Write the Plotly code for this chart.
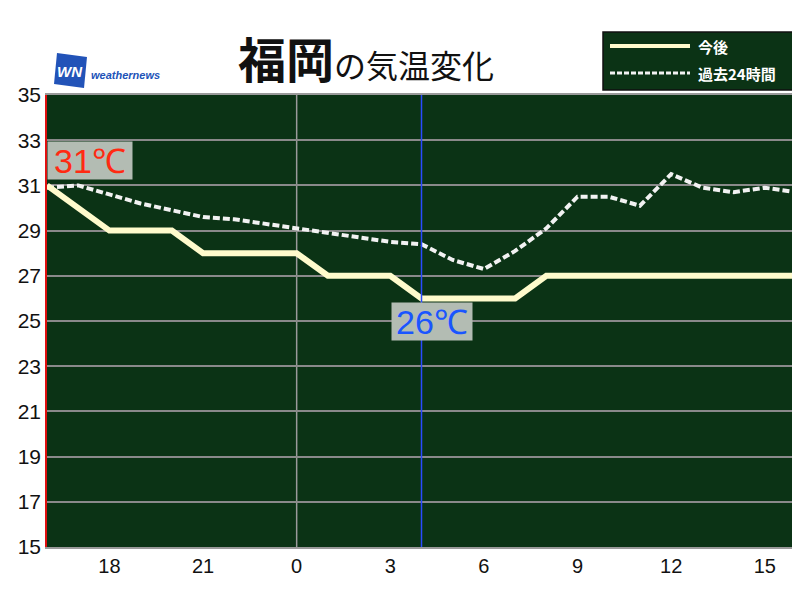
import plotly.graph_objects as go

# hours relative to midnight (-8 = 16:00 previous day ... 16 = 16:00)
hours = list(range(-8, 17))
forecast = [31, 30, 29, 29, 29, 28, 28, 28, 28, 27, 27, 27, 26, 26, 26, 26,
            27, 27, 27, 27, 27, 27, 27, 27, 27]
past24 = [30.9, 31.0, 30.6, 30.2, 29.9, 29.6, 29.5, 29.3, 29.1, 28.9, 28.7, 28.5,
          28.4, 27.7, 27.3, 28.1, 29.1, 30.5, 30.5, 30.1, 31.5, 30.9, 30.7, 30.9, 30.7]
tick_vals = [-6, -3, 0, 3, 6, 9, 12, 15]
tick_text = ["18", "21", "0", "3", "6", "9", "12", "15"]
y_ticks = list(range(15, 36, 2))
midnight = 0
now_hour = 4
max_label = "31℃"
min_label = "26℃"

BG = "#0b3315"
FONT = "Liberation Sans"
JP = "Noto Sans CJK JP"

fig = go.Figure()
fig.add_trace(go.Scatter(x=hours, y=past24, mode="lines", name="過去24時間",
                         line=dict(color="#f2f2f2", width=4, dash="7px,3px"),
                         showlegend=False))
fig.add_trace(go.Scatter(x=hours, y=forecast, mode="lines", name="今後",
                         line=dict(color="#fffbcc", width=6),
                         showlegend=False))

# reference lines
fig.add_shape(type="line", xref="x", yref="paper", x0=midnight, x1=midnight, y0=0, y1=1,
              line=dict(color="#9a9a9a", width=1.5), layer="below")
fig.add_shape(type="line", xref="x", yref="paper", x0=now_hour, x1=now_hour, y0=0, y1=1,
              line=dict(color="#2a4bff", width=1.5))

# labels
imax = forecast.index(max(forecast))
imin = forecast.index(min(forecast))
fig.add_annotation(x=hours[imax], y=forecast[imax], text=max_label, showarrow=False,
                   xanchor="left", yanchor="bottom", yshift=5, width=84, height=37,
                   font=dict(family=FONT, size=34, color="#ff2a12"),
                   bgcolor="#b3bcb3", borderpad=0)
fig.add_annotation(x=hours[imin], y=forecast[imin], text=min_label, showarrow=False,
                   xanchor="center", yanchor="top", yshift=-4, xshift=10, width=80, height=37,
                   font=dict(family=FONT, size=34, color="#1a55ff"),
                   bgcolor="#b3bcb3", borderpad=0)

# pixel -> paper helpers (screen pixels of the reference)
def px_x(p):
    return (p - 47) / 749
def px_y(p):
    return (547 - p) / 452

# title
fig.add_annotation(xref="paper", yref="paper", x=px_x(236), y=px_y(57), xanchor="left", yanchor="middle",
                   text="<b><span style='font-size:48px'>福岡</span></b><span style='font-size:32px'>の気温変化</span>",
                   showarrow=False, font=dict(family=JP, size=32, color="#111111"))

# logo
fig.add_shape(type="path", xref="paper", yref="paper",
              path=f"M {px_x(57)},{px_y(53)} L {px_x(87)},{px_y(57)} L {px_x(84)},{px_y(88)} L {px_x(54)},{px_y(84)} Z",
              fillcolor="#2253b8", line=dict(width=0))
fig.add_annotation(xref="paper", yref="paper", x=px_x(70), y=px_y(72), xanchor="center", yanchor="middle",
                   text="<b><i>WN</i></b>",
                   showarrow=False, font=dict(family=FONT, size=15, color="white"))
fig.add_annotation(xref="paper", yref="paper", x=px_x(89), y=px_y(75), xanchor="left", yanchor="middle",
                   text="<b><i>weathernews</i></b>", showarrow=False,
                   font=dict(family=FONT, size=11, color="#2253b8"))

# legend (drawn)
fig.add_shape(type="rect", xref="paper", yref="paper", x0=px_x(603), x1=px_x(795), y0=px_y(90), y1=px_y(32),
              fillcolor=BG, line=dict(color="#111111", width=1.5))
fig.add_shape(type="line", xref="paper", yref="paper", x0=px_x(610), x1=px_x(690), y0=px_y(46), y1=px_y(46),
              line=dict(color="#fffbcc", width=4))
fig.add_shape(type="line", xref="paper", yref="paper", x0=px_x(610), x1=px_x(690), y0=px_y(73), y1=px_y(73),
              line=dict(color="#f2f2f2", width=3, dash="5px,2px"))
fig.add_annotation(xref="paper", yref="paper", x=px_x(696), y=px_y(46), xanchor="left", yanchor="middle",
                   text="<b>今後</b>", showarrow=False, font=dict(family=JP, size=15, color="white"))
fig.add_annotation(xref="paper", yref="paper", x=px_x(696), y=px_y(73), xanchor="left", yanchor="middle",
                   text="<b>過去24時間</b>", showarrow=False, font=dict(family=JP, size=15, color="white"))

# page has an 8px body margin: figure is 792x592 placed at (8, 8)
fig.update_layout(
    width=792, height=592,
    margin=dict(l=39, r=4, t=87, b=53),
    paper_bgcolor="white", plot_bgcolor=BG,
    showlegend=False,
    xaxis=dict(range=[-8, 16], tickvals=tick_vals, ticktext=tick_text, showgrid=False,
               zeroline=False, showline=True, linecolor="#9a9a9a", linewidth=1.5, mirror=True,
               ticks="", tickfont=dict(family=FONT, size=20, color="#111111")),
    yaxis=dict(range=[15, 35], tickvals=y_ticks, showgrid=True, gridcolor="#8a8a8a", gridwidth=1.5,
               zeroline=False, showline=True, linecolor="#e01010", linewidth=1.5,
               ticks="", tickfont=dict(family=FONT, size=21, color="#111111")),
)

fig.write_html("out.html")
